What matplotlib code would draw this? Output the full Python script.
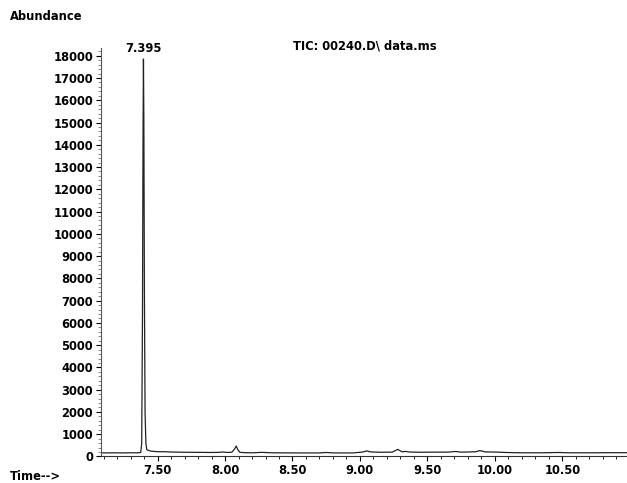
import matplotlib.pyplot as plt
from matplotlib.ticker import MultipleLocator, FormatStrFormatter

# retention time (min) and abundance
times = [7.078, 7.12, 7.18, 7.24, 7.30, 7.35, 7.375, 7.382, 7.388, 7.392,
         7.395, 7.398, 7.402, 7.407, 7.413, 7.42, 7.43, 7.45, 7.50, 7.55,
         7.60, 7.65, 7.70, 7.80, 7.90, 7.95, 7.98, 8.02, 8.05, 8.07,
         8.083, 8.095, 8.11, 8.15, 8.20, 8.27, 8.35, 8.50, 8.70, 8.75,
         8.80, 8.95, 9.02, 9.05, 9.08, 9.15, 9.24, 9.28, 9.31, 9.34,
         9.37, 9.45, 9.55, 9.65, 9.71, 9.75, 9.82, 9.86, 9.89, 9.93,
         10.00, 10.08, 10.20, 10.35, 10.47, 10.55, 10.70, 10.85, 10.98]
abundance = [165, 160, 165, 160, 165, 165, 180, 600, 6500, 14500,
             17850, 15000, 7500, 2000, 600, 300, 280, 240, 215, 215,
             200, 195, 190, 185, 180, 185, 200, 180, 190, 330,
             470, 300, 185, 170, 165, 185, 165, 160, 160, 180,
             160, 160, 200, 250, 205, 190, 195, 320, 215, 225,
             200, 190, 195, 195, 225, 195, 205, 215, 265, 205,
             200, 180, 165, 165, 180, 165, 165, 170, 170]

peak_time = 7.395
peak_height = 17850
title = 'TIC: 00240.D\\ data.ms'

font = {'family': 'DejaVu Sans', 'weight': 'bold', 'size': 8.3}

fig = plt.figure(figsize=(6.27, 4.83), dpi=100)
ax = fig.add_axes([0.1606, 0.0549, 0.8394, 0.8459])
ax.plot(times, abundance, color='#222222', linewidth=0.9)

ax.set_xlim(7.078, 10.98)
ax.set_ylim(0, 18350)

ax.spines['top'].set_visible(False)
ax.spines['right'].set_visible(False)
ax.spines['left'].set_color('#555555')
ax.spines['bottom'].set_color('#333333')

ax.xaxis.set_major_locator(MultipleLocator(0.5))
ax.xaxis.set_minor_locator(MultipleLocator(0.1))
ax.xaxis.set_major_formatter(FormatStrFormatter('%.2f'))
ax.yaxis.set_major_locator(MultipleLocator(1000))
ax.yaxis.set_minor_locator(MultipleLocator(200))
ax.tick_params(axis='both', which='major', length=3.5, width=0.8, pad=2, direction='out')
ax.tick_params(axis='both', which='minor', length=2, width=0.6, direction='out')
ax.tick_params(axis='y', which='minor', colors='#777777')

for lbl in ax.get_xticklabels() + ax.get_yticklabels():
    lbl.set_family(font['family'])
    lbl.set_fontweight('bold')
    lbl.set_fontsize(font['size'])

ax.annotate('%.3f' % peak_time, xy=(peak_time, peak_height), xytext=(0, 3),
            textcoords='offset points', ha='center', va='bottom', **font)
fig.text(365 / 627, 1 - 46 / 483, title, ha='center', va='center', **font)
fig.text(10 / 627, 1 - 16 / 483, 'Abundance', ha='left', va='center', **font)
fig.text(10 / 627, 1 - 476 / 483, 'Time-->', ha='left', va='center', **font)

fig.savefig('out.png', dpi=100)
